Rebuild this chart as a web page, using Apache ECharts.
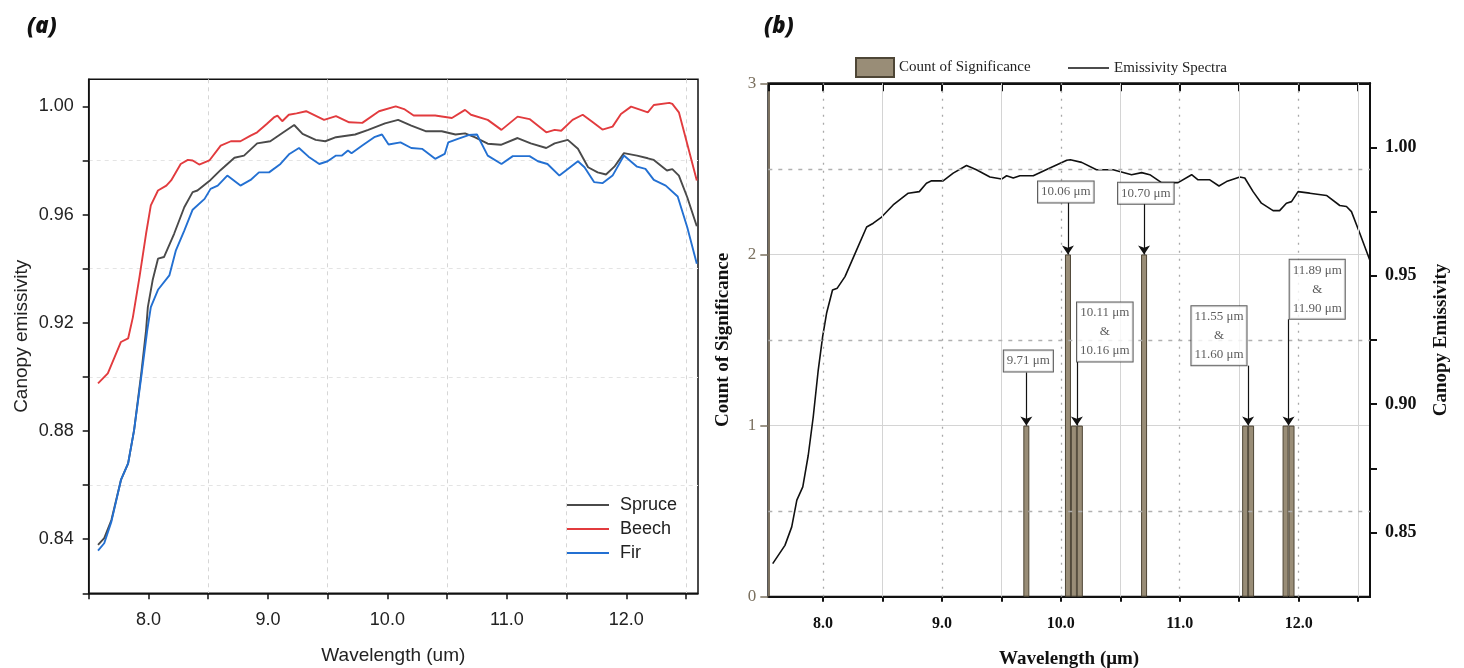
<!DOCTYPE html>
<html><head><meta charset="utf-8">
<script src="https://cdn.jsdelivr.net/npm/echarts@6/dist/echarts.min.js"></script>
<style>html,body{margin:0;padding:0;background:#fff}#c{width:1464px;height:668px}</style>
</head><body><div id="c"></div>
<script>
// ---------- Panel (a): canopy emissivity spectra [wavelength µm, emissivity] ----------
const spruce = [[7.578,0.8379],[7.63,0.8404],[7.69,0.8471],[7.77,0.8619],[7.83,0.868],[7.88,0.8803],[7.94,0.9013],[7.98,0.9172],[7.995,0.9258],[8.035,0.9357],[8.08,0.9437],[8.13,0.9443],[8.215,0.9529],[8.30,0.9627],[8.37,0.9683],[8.41,0.9689],[8.52,0.9728],[8.605,0.9765],[8.72,0.981],[8.80,0.9818],[8.91,0.9863],[9.02,0.9871],[9.13,0.9904],[9.22,0.9931],[9.29,0.9898],[9.40,0.9876],[9.48,0.9871],[9.57,0.9886],[9.73,0.9896],[9.84,0.9913],[9.98,0.9937],[10.09,0.995],[10.20,0.9929],[10.32,0.9908],[10.455,0.9908],[10.57,0.9896],[10.65,0.99],[10.73,0.9886],[10.84,0.9862],[10.95,0.9858],[11.09,0.9883],[11.20,0.9863],[11.33,0.9846],[11.40,0.9863],[11.51,0.9876],[11.595,0.9843],[11.68,0.9775],[11.76,0.9756],[11.83,0.9748],[11.90,0.9777],[11.98,0.9827],[12.09,0.9818],[12.18,0.9808],[12.23,0.9802],[12.34,0.9763],[12.385,0.9768],[12.44,0.9744],[12.51,0.9664],[12.59,0.9557]];
const beech = [[7.578,0.8976],[7.66,0.9013],[7.77,0.9129],[7.83,0.9142],[7.87,0.9221],[7.925,0.9369],[7.98,0.9529],[8.02,0.9634],[8.08,0.9689],[8.15,0.9707],[8.19,0.9726],[8.27,0.9787],[8.33,0.9802],[8.37,0.980],[8.425,0.9785],[8.51,0.980],[8.605,0.9855],[8.69,0.9871],[8.77,0.9871],[8.855,0.9892],[8.91,0.9904],[8.99,0.9935],[9.05,0.9959],[9.08,0.9966],[9.12,0.9945],[9.175,0.9969],[9.24,0.9974],[9.32,0.9982],[9.47,0.995],[9.57,0.9964],[9.68,0.9941],[9.79,0.9939],[9.93,0.9982],[10.07,1.000],[10.14,0.999],[10.22,0.9966],[10.32,0.9966],[10.40,0.9966],[10.54,0.9957],[10.65,0.9987],[10.70,0.9969],[10.84,0.995],[10.955,0.9913],[11.09,0.9962],[11.19,0.9953],[11.33,0.9904],[11.40,0.9913],[11.455,0.991],[11.55,0.995],[11.635,0.9969],[11.72,0.9941],[11.80,0.9914],[11.885,0.9925],[11.955,0.9972],[12.04,0.9999],[12.12,0.9987],[12.18,0.9978],[12.23,1.0005],[12.36,1.0013],[12.385,1.0009],[12.44,0.9978],[12.51,0.9861],[12.59,0.9726]];
const fir = [[7.578,0.8358],[7.63,0.8385],[7.69,0.8465],[7.77,0.8619],[7.83,0.868],[7.88,0.8803],[7.94,0.90],[7.99,0.9172],[8.02,0.9258],[8.08,0.9322],[8.175,0.9375],[8.23,0.9468],[8.30,0.9541],[8.37,0.9618],[8.47,0.9658],[8.52,0.9695],[8.58,0.9707],[8.66,0.9744],[8.77,0.9707],[8.855,0.9728],[8.925,0.9756],[9.01,0.9756],[9.105,0.9787],[9.18,0.9824],[9.26,0.9846],[9.34,0.9814],[9.43,0.9787],[9.50,0.9797],[9.57,0.9818],[9.62,0.9818],[9.67,0.9837],[9.70,0.9827],[9.79,0.9855],[9.89,0.9886],[9.955,0.9896],[10.01,0.9859],[10.11,0.9867],[10.20,0.9846],[10.29,0.9843],[10.40,0.9806],[10.48,0.9824],[10.51,0.9867],[10.59,0.988],[10.68,0.9894],[10.75,0.9896],[10.84,0.9818],[10.955,0.9787],[11.05,0.9816],[11.19,0.9816],[11.26,0.9797],[11.34,0.9787],[11.44,0.9744],[11.595,0.9797],[11.65,0.9775],[11.73,0.972],[11.80,0.9716],[11.885,0.9744],[11.98,0.9818],[12.09,0.9777],[12.16,0.9769],[12.23,0.9728],[12.33,0.9707],[12.43,0.9667],[12.51,0.9553],[12.59,0.9418]];
const seriesNamesA = ['Spruce', 'Beech', 'Fir'];

// ---------- Panel (b) ----------
const spectra = [[7.577,0.8379],[7.68,0.845],[7.737,0.8522],[7.78,0.8626],[7.83,0.8678],[7.876,0.8801],[7.918,0.8951],[7.96,0.9133],[7.997,0.9263],[8.03,0.9354],[8.08,0.9445],[8.12,0.9452],[8.185,0.9497],[8.283,0.9601],[8.367,0.969],[8.423,0.9705],[8.493,0.9729],[8.59,0.9776],[8.717,0.9822],[8.81,0.9828],[8.87,0.9861],[8.913,0.987],[9.01,0.987],[9.095,0.99],[9.207,0.993],[9.29,0.9913],[9.404,0.9885],[9.502,0.9877],[9.544,0.989],[9.60,0.9881],[9.656,0.989],[9.768,0.989],[9.908,0.992],[10.05,0.995],[10.08,0.9952],[10.175,0.9942],[10.30,0.9913],[10.44,0.9913],[10.595,0.9894],[10.68,0.9902],[10.748,0.9894],[10.847,0.9863],[10.986,0.9863],[11.10,0.9894],[11.154,0.9874],[11.253,0.9874],[11.33,0.985],[11.393,0.9867],[11.505,0.9885],[11.547,0.9881],[11.617,0.9828],[11.687,0.9783],[11.785,0.9754],[11.84,0.9754],[11.897,0.9783],[11.94,0.9789],[11.995,0.9828],[12.093,0.9822],[12.234,0.9813],[12.346,0.9774],[12.402,0.977],[12.444,0.975],[12.514,0.9666],[12.598,0.9562]];
const sigWavelengths = [9.71, 10.06, 10.11, 10.16, 10.70, 11.55, 11.60, 11.89, 11.94];
const sigCounts      = [1, 2, 1, 1, 2, 1, 1, 1, 1];
const annoTexts  = ['9.71 μm', '10.06 μm', '10.70 μm', '10.11 μm\n&\n10.16 μm', '11.55 μm\n&\n11.60 μm', '11.89 μm\n&\n11.90 μm'];
const annoLabelX = [9.727, 10.042, 10.715, 10.37, 11.33, 12.156];
const annoLabelY = [1.378, 2.365, 2.358, 1.547, 1.525, 1.797];
const annoArrowX = [9.71, 10.06, 10.70, 10.135, 11.575, 11.915];
const annoArrowFromY = [1.31, 2.305, 2.296, 1.372, 1.35, 1.621];
const annoArrowToY   = [1, 2, 2, 1, 1, 1];
const gridHalfX = [8.5, 9.5, 10.5, 11.5, 12.5];
const gridIntX  = [8, 9, 10, 11, 12];
const gridHalfY = [0.5, 1.5, 2.5];

const SANS = 'Liberation Sans';
const SERIF = 'Liberation Serif';
const colorsA = ['#4a4a4a', '#e23b3e', '#2370d2'];
const barColor = '#998d77';

const chart = echarts.init(document.getElementById('c'), null, {renderer: 'canvas'});

const markGrid = [];
gridHalfX.forEach(v => markGrid.push({xAxis: v, lineStyle: {color: '#d4d4d4', type: 'solid', width: 1}}));
gridIntX.forEach(v => markGrid.push({xAxis: v, lineStyle: {color: '#a8a8a8', type: [2, 6], width: 1.3}}));
gridHalfY.forEach(v => markGrid.push({yAxis: v, lineStyle: {color: '#b0b0b0', type: [4, 6], width: 1.3}}));

const arrows = annoArrowX.map((x, i) => [
  {coord: [x, annoArrowFromY[i]]},
  {coord: [x, annoArrowToY[i]]}
]);

const option = {
  animation: false,
  backgroundColor: '#fff',
  title: [
    {text: '(a)', left: 22, top: 11, textStyle: {fontFamily: 'Open Sans', fontStyle: 'italic', fontWeight: 800, fontSize: 22, color: '#111'}},
    {text: '(b)', left: 759, top: 11, textStyle: {fontFamily: 'Open Sans', fontStyle: 'italic', fontWeight: 800, fontSize: 22, color: '#111'}}
  ],
  legend: [
    {
      data: seriesNamesA.map(n => ({name: n, icon: 'rect'})),
      orient: 'vertical', left: 562, top: 488, itemWidth: 42, itemHeight: 2, itemGap: 0,
      textStyle: {fontFamily: SANS, fontSize: 18, color: '#222', lineHeight: 24, padding: [0, 0, 0, 6]}
    },
    {
      data: [{name: 'Count of Significance', icon: 'rect'}],
      left: 850, top: 52, itemWidth: 38, itemHeight: 19,
      textStyle: {fontFamily: SERIF, fontSize: 15, color: '#222'}
    },
    {
      data: [{name: 'Emissivity Spectra', icon: 'rect'}],
      left: 1063, top: 53, itemWidth: 41, itemHeight: 1.5,
      textStyle: {fontFamily: SERIF, fontSize: 15, color: '#222', lineHeight: 20}
    }
  ],
  grid: [
    {left: 88.7, top: 79.3, width: 609.3, height: 514, show: true, borderColor: '#111', borderWidth: 1.5, backgroundColor: 'transparent', outerBoundsMode: 'none', containLabel: false},
    {left: 768.3, top: 83.3, width: 601.7, height: 513.4, show: true, borderColor: '#111', borderWidth: 2, backgroundColor: 'transparent', outerBoundsMode: 'none', containLabel: false}
  ],
  xAxis: [
    { // 0: panel a main
      type: 'value', gridIndex: 0, position: 'bottom', min: 7.5, max: 12.6, interval: 0.5,
      name: 'Wavelength (um)', nameLocation: 'middle', nameGap: 53,
      nameTextStyle: {fontFamily: SANS, fontSize: 19, color: '#222'},
      axisLine: {show: true, lineStyle: {color: '#111', width: 1.5}},
      axisTick: {show: true, inside: false, length: 6, lineStyle: {color: '#111', width: 1.5}},
      axisLabel: {fontFamily: SANS, fontSize: 18, color: '#222', margin: 18, showMaxLabel: false,
        formatter: v => (Math.abs(v - Math.round(v)) < 1e-6 ? v.toFixed(1) : '')},
      splitLine: {show: false}
    },
    { // 1: panel a dashed grid (7.5, 8.5, ...)
      type: 'value', gridIndex: 0, position: 'top', min: 7.5, max: 12.6, interval: 1,
      axisLine: {show: false}, axisTick: {show: false}, axisLabel: {show: false},
      splitLine: {show: true, showMinLine: false, showMaxLine: false, lineStyle: {color: '#d6d6d6', type: [4, 4], width: 1}}
    },
    { // 2: panel b bottom
      type: 'value', gridIndex: 1, position: 'bottom', min: 7.54, max: 12.6, minInterval: 0.5, maxInterval: 0.5, splitNumber: 10,
      name: 'Wavelength (μm)', nameLocation: 'middle', nameGap: 53,
      nameTextStyle: {fontFamily: SERIF, fontSize: 19, fontWeight: 'bold', color: '#111'},
      axisLine: {show: true, lineStyle: {color: '#111', width: 2}},
      axisTick: {show: true, inside: false, length: 5, lineStyle: {color: '#111', width: 2}},
      axisLabel: {fontFamily: SERIF, fontSize: 16, fontWeight: 'bold', color: '#111', margin: 19, showMinLabel: false, showMaxLabel: false,
        formatter: v => (Math.abs(v - Math.round(v)) < 1e-6 ? v.toFixed(1) : '')},
      splitLine: {show: false}
    },
    { // 3: panel b top mirror
      type: 'value', gridIndex: 1, position: 'top', min: 7.54, max: 12.6, minInterval: 0.5, maxInterval: 0.5, splitNumber: 10,
      axisLine: {show: true, lineStyle: {color: '#111', width: 2}},
      axisTick: {show: true, inside: true, length: 8, lineStyle: {color: '#111', width: 2}},
      axisLabel: {show: false}, splitLine: {show: false}
    }
  ],
  yAxis: [
    { // 0: panel a main
      type: 'value', gridIndex: 0, position: 'left', min: 0.82, max: 1.01, interval: 0.02,
      name: 'Canopy emissivity', nameLocation: 'middle', nameGap: 57,
      nameTextStyle: {fontFamily: SANS, fontSize: 19, color: '#222'},
      axisLine: {show: true, lineStyle: {color: '#111', width: 1.5}},
      axisTick: {show: true, inside: false, length: 6, lineStyle: {color: '#111', width: 1.5}},
      axisLabel: {fontFamily: SANS, fontSize: 18, color: '#222', margin: 15, showMaxLabel: false,
        formatter: v => (Math.round(v * 100) % 4 === 0 ? v.toFixed(2) : '')},
      splitLine: {show: false}
    },
    { // 1: panel a dashed grid (0.82, 0.86, ...)
      type: 'value', gridIndex: 0, position: 'right', min: 0.82, max: 1.01, interval: 0.04,
      axisLine: {show: false}, axisTick: {show: false}, axisLabel: {show: false},
      splitLine: {show: true, showMinLine: false, showMaxLine: false, lineStyle: {color: '#e4e4e4', type: [4, 4], width: 1}}
    },
    { // 2: panel b count
      type: 'value', gridIndex: 1, position: 'left', min: 0, max: 3, interval: 1,
      name: 'Count of Significance', nameLocation: 'middle', nameGap: 36,
      nameTextStyle: {fontFamily: SERIF, fontSize: 19, fontWeight: 'bold', color: '#111'},
      axisLine: {show: true, lineStyle: {color: '#7b7160', width: 2}},
      axisTick: {show: true, inside: false, length: 8, lineStyle: {color: '#7b7160', width: 1.5}},
      axisLabel: {fontFamily: SERIF, fontSize: 17, color: '#7b7160', margin: 12},
      splitLine: {show: true, showMinLine: false, showMaxLine: false, lineStyle: {color: '#d4d4d4', width: 1}}
    },
    { // 3: panel b emissivity
      type: 'value', gridIndex: 1, position: 'right', min: 0.825, max: 1.025, interval: 0.025,
      name: 'Canopy Emissivity', nameLocation: 'middle', nameGap: 62,
      nameTextStyle: {fontFamily: SERIF, fontSize: 19, fontWeight: 'bold', color: '#111'},
      axisLine: {show: true, lineStyle: {color: '#111', width: 2}},
      axisTick: {show: true, inside: false, length: 7, lineStyle: {color: '#111', width: 2}},
      axisLabel: {fontFamily: SERIF, fontSize: 18, fontWeight: 'bold', color: '#111', margin: 15, showMinLabel: false, showMaxLabel: false,
        formatter: v => (Math.round(v * 1000) % 50 === 0 ? v.toFixed(2) : '')},
      splitLine: {show: false}
    }
  ],
  series: [
    ...[spruce, beech, fir].map((d, i) => ({
      name: seriesNamesA[i], type: 'line', xAxisIndex: 0, yAxisIndex: 0, data: d,
      showSymbol: false, symbol: 'none', smooth: false, z: 3,
      lineStyle: {color: colorsA[i], width: 1.9}, itemStyle: {color: colorsA[i]}
    })),
    { // panel b gridlines
      name: 'gridB', type: 'line', xAxisIndex: 2, yAxisIndex: 2, data: [], z: 1, silent: true,
      markLine: {silent: true, symbol: ['none', 'none'], label: {show: false}, animation: false, data: markGrid}
    },
    {
      name: 'Count of Significance', type: 'bar', xAxisIndex: 2, yAxisIndex: 2, z: 3,
      data: sigWavelengths.map((w, i) => [w, sigCounts[i]]),
      barWidth: 6,
      itemStyle: {color: barColor, borderColor: '#4e4636', borderWidth: 1},
      markLine: {silent: true, symbol: ['none', 'arrow'], symbolSize: 9, label: {show: false}, animation: false,
        lineStyle: {color: '#111', type: 'solid', width: 1.2}, data: arrows}
    },
    {
      name: 'Emissivity Spectra', type: 'line', xAxisIndex: 2, yAxisIndex: 3, data: spectra,
      showSymbol: false, symbol: 'none', z: 4,
      lineStyle: {color: '#111', width: 1.6}, itemStyle: {color: '#111'}
    },
    {
      name: 'annotations', type: 'scatter', xAxisIndex: 2, yAxisIndex: 2, z: 6, silent: true,
      symbolSize: 1, itemStyle: {color: 'rgba(0,0,0,0)'},
      data: annoTexts.map((t, i) => [annoLabelX[i], annoLabelY[i], t]),
      label: {show: true, position: 'inside', formatter: p => p.data[2],
        fontFamily: SERIF, fontSize: 13, color: '#333', lineHeight: 19, align: 'center',
        backgroundColor: '#fff', borderColor: '#333', borderWidth: 1, padding: [1, 3]}
    }
  ]
};
chart.setOption(option);
</script></body></html>
